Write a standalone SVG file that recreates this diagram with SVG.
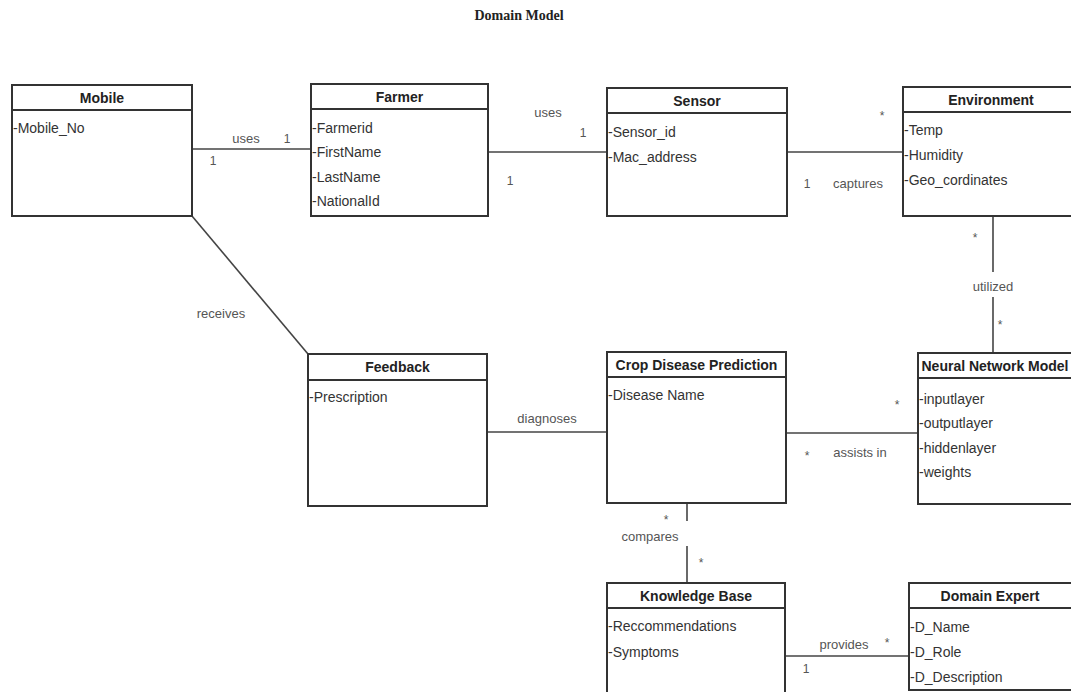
<svg xmlns="http://www.w3.org/2000/svg" width="1071" height="692" viewBox="0 0 1071 692">
  <style>
    .box { fill: #ffffff; stroke: #333333; stroke-width: 2; }
    .sep { stroke: #333333; stroke-width: 2; }
    .hdr { font-family: "Liberation Sans", Arial, sans-serif; font-size: 14px; font-weight: bold; fill: #222222; text-anchor: middle; }
    .att { font-family: "Liberation Sans", Arial, sans-serif; font-size: 14px; fill: #333333; }
    .lbl { font-family: "Liberation Sans", Arial, sans-serif; font-size: 13px; fill: #555555; text-anchor: middle; }
    .mul { font-family: "Liberation Sans", Arial, sans-serif; font-size: 12px; fill: #555555; text-anchor: middle; }
    .conn { stroke: #444444; stroke-width: 1.6; fill: none; }
    .title { font-family: "Liberation Serif", "Times New Roman", serif; font-size: 14px; font-weight: bold; fill: #222222; text-anchor: middle; }
  </style>

  <rect width="1071" height="692" fill="#ffffff"/>

  <text class="title" x="519" y="20">Domain Model</text>

  <!-- associations -->
  <g id="connectors">
    <line class="conn" x1="192" y1="149" x2="311" y2="149"/>
    <line class="conn" x1="488" y1="152" x2="607" y2="152"/>
    <line class="conn" x1="787" y1="152" x2="903" y2="152"/>
    <line class="conn" x1="993" y1="216" x2="993" y2="272"/>
    <line class="conn" x1="993" y1="297" x2="993" y2="353"/>
    <line class="conn" x1="192" y1="216" x2="308" y2="354"/>
    <line class="conn" x1="487" y1="432" x2="607" y2="432"/>
    <line class="conn" x1="786" y1="433" x2="918" y2="433"/>
    <line class="conn" x1="687" y1="503" x2="687" y2="521"/>
    <line class="conn" x1="687" y1="546" x2="687" y2="583"/>
    <line class="conn" x1="785" y1="656" x2="909" y2="656"/>

    <text class="lbl" x="246" y="143">uses</text>
    <text class="mul" x="287" y="143">1</text>
    <text class="mul" x="213" y="165">1</text>

    <text class="lbl" x="548" y="117">uses</text>
    <text class="mul" x="583" y="137">1</text>
    <text class="mul" x="510" y="185">1</text>

    <text class="mul" x="882" y="120">*</text>
    <text class="mul" x="807" y="188">1</text>
    <text class="lbl" x="858" y="188">captures</text>

    <text class="mul" x="975" y="242">*</text>
    <text class="lbl" x="993" y="291">utilized</text>
    <text class="mul" x="1000" y="329">*</text>

    <text class="lbl" x="221" y="318">receives</text>
    <text class="lbl" x="547" y="423">diagnoses</text>

    <text class="mul" x="897" y="409">*</text>
    <text class="mul" x="807" y="460">*</text>
    <text class="lbl" x="860" y="457">assists in</text>

    <text class="lbl" x="650" y="541">compares</text>
    <text class="mul" x="666" y="524">*</text>
    <text class="mul" x="701" y="567">*</text>

    <text class="lbl" x="844" y="649">provides</text>
    <text class="mul" x="887" y="647">*</text>
    <text class="mul" x="806" y="673">1</text>
  </g>

  <g id="mobile">
    <rect class="box" x="12" y="85" width="180" height="131"/>
    <line class="sep" x1="12" y1="110" x2="192" y2="110"/>
    <text class="hdr" x="102" y="103">Mobile</text>
    <text class="att" x="13" y="133">-Mobile_No</text>
  </g>

  <g id="farmer">
    <rect class="box" x="311" y="84" width="177" height="132"/>
    <line class="sep" x1="311" y1="109" x2="488" y2="109"/>
    <text class="hdr" x="399.5" y="102">Farmer</text>
    <text class="att" x="312" y="133">-Farmerid</text>
    <text class="att" x="312" y="157">-FirstName</text>
    <text class="att" x="312" y="182">-LastName</text>
    <text class="att" x="312" y="206">-NationalId</text>
  </g>

  <g id="sensor">
    <rect class="box" x="607" y="88" width="180" height="128"/>
    <line class="sep" x1="607" y1="113" x2="787" y2="113"/>
    <text class="hdr" x="697" y="106">Sensor</text>
    <text class="att" x="608" y="137">-Sensor_id</text>
    <text class="att" x="608" y="162">-Mac_address</text>
  </g>

  <g id="environment">
    <rect class="box" x="903" y="87" width="176" height="129"/>
    <line class="sep" x1="903" y1="112" x2="1079" y2="112"/>
    <text class="hdr" x="991" y="105">Environment</text>
    <text class="att" x="904" y="135">-Temp</text>
    <text class="att" x="904" y="160">-Humidity</text>
    <text class="att" x="904" y="185">-Geo_cordinates</text>
  </g>

  <g id="feedback">
    <rect class="box" x="308" y="354" width="179" height="152"/>
    <line class="sep" x1="308" y1="380" x2="487" y2="380"/>
    <text class="hdr" x="397.5" y="372">Feedback</text>
    <text class="att" x="309" y="402">-Prescription</text>
  </g>

  <g id="crop-disease-prediction">
    <rect class="box" x="607" y="352" width="179" height="151"/>
    <line class="sep" x1="607" y1="377" x2="786" y2="377"/>
    <text class="hdr" x="696.5" y="370">Crop Disease Prediction</text>
    <text class="att" x="608" y="400">-Disease Name</text>
  </g>

  <g id="neural-network-model">
    <rect class="box" x="918" y="353" width="156" height="151"/>
    <line class="sep" x1="918" y1="378" x2="1074" y2="378"/>
    <text class="hdr" x="995" y="371">Neural Network Model</text>
    <text class="att" x="919" y="404">-inputlayer</text>
    <text class="att" x="919" y="428">-outputlayer</text>
    <text class="att" x="919" y="453">-hiddenlayer</text>
    <text class="att" x="919" y="477">-weights</text>
  </g>

  <g id="knowledge-base">
    <rect class="box" x="607" y="583" width="178" height="112"/>
    <line class="sep" x1="607" y1="608" x2="785" y2="608"/>
    <text class="hdr" x="696" y="601">Knowledge Base</text>
    <text class="att" x="608" y="631">-Reccommendations</text>
    <text class="att" x="608" y="657">-Symptoms</text>
  </g>

  <g id="domain-expert">
    <rect class="box" x="909" y="583" width="165" height="107"/>
    <line class="sep" x1="909" y1="608" x2="1074" y2="608"/>
    <text class="hdr" x="990" y="601">Domain Expert</text>
    <text class="att" x="910" y="632">-D_Name</text>
    <text class="att" x="910" y="657">-D_Role</text>
    <text class="att" x="910" y="682">-D_Description</text>
  </g>
</svg>
